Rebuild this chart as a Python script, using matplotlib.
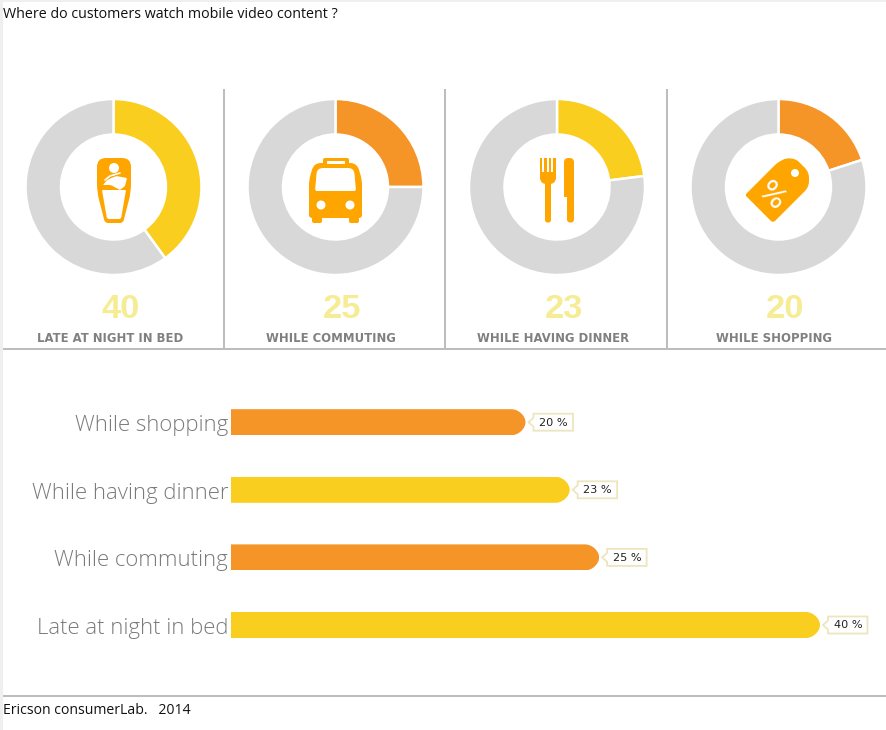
import matplotlib
matplotlib.use("Agg")
import matplotlib.pyplot as plt
from matplotlib.patches import Circle, PathPatch, Polygon, Rectangle
from matplotlib.path import Path
from matplotlib.transforms import Affine2D

# data
places = ["Late at night in bed", "While commuting", "While having dinner", "While shopping"]
shares = [40, 25, 23, 20]
slice_colors = ["#f9ce1f", "#f59427", "#f9ce1f", "#f59427"]

W, H = 887, 730
GRAY = "#d8d8d8"
LINE = "#bdbdbd"
ICON = "#ffa500"
TEXT_GRAY = "#808080"
NUM = "#f5ec94"
TAG = "#ece6bf"
PX = 72 / 100


def px_rect(x0, y0, x1, y1):
    # image pixels (y down) to figure fractions
    return [x0 / W, 1 - y1 / H, (x1 - x0) / W, (y1 - y0) / H]


def rounded(points, radii):
    # closed path from corner points, each corner cut with a quadratic curve
    n = len(points)
    verts, codes = [], []
    for i, (p, r) in enumerate(zip(points, radii)):
        a, b = points[i - 1], points[(i + 1) % n]
        la = ((a[0] - p[0]) ** 2 + (a[1] - p[1]) ** 2) ** 0.5
        lb = ((b[0] - p[0]) ** 2 + (b[1] - p[1]) ** 2) ** 0.5
        s = (p[0] + (a[0] - p[0]) * r / la, p[1] + (a[1] - p[1]) * r / la)
        e = (p[0] + (b[0] - p[0]) * r / lb, p[1] + (b[1] - p[1]) * r / lb)
        verts += [s, p, e]
        codes += [Path.MOVETO if i == 0 else Path.LINETO, Path.CURVE3, Path.CURVE3]
    verts.append(verts[0])
    codes.append(Path.CLOSEPOLY)
    return Path(verts, codes)


def shape(ax, points, radii, color=ICON):
    ax.add_patch(PathPatch(rounded(points, radii), fc=color, ec="none"))


def bed_icon(ax):
    shape(ax, [(97, 158), (131, 158), (131, 192), (123, 223), (105, 223), (97, 192)], [9, 9, 8, 3, 3, 8])
    shape(ax, [(102, 190), (126, 190), (121, 219), (107, 219)], [1, 1, 2, 2], "white")
    ax.add_patch(Circle((114, 168), 5, fc="white", ec="none"))
    shape(ax, [(103, 185), (107, 180), (116, 176), (127, 178), (125, 186), (120, 190), (111, 185)],
          [1, 2, 2, 1, 1, 1, 2], "white")
    ax.plot([105, 110, 120], [180, 176, 173], color="white", lw=1.2, solid_capstyle="round")


def bus_icon(ax):
    shape(ax, [(323, 158), (349, 158), (349, 166), (323, 166)], [2, 2, 0.1, 0.1])
    shape(ax, [(314, 163), (357, 163), (362, 180), (362, 218), (309, 218), (309, 180)], [7, 7, 5, 3, 3, 5])
    shape(ax, [(317, 168), (354, 168), (356, 191), (315, 191)], [6, 6, 2, 2], "white")
    shape(ax, [(327, 161), (345, 161), (345, 164), (327, 164)], [0.5, 0.5, 0.5, 0.5], "white")
    for x in (321, 350):
        ax.add_patch(Circle((x, 205), 4.5, fc="white", ec="none"))
    for x0 in (312, 349):
        shape(ax, [(x0, 215), (x0 + 10, 215), (x0 + 10, 223), (x0, 223)], [0.1, 0.1, 2, 2])


def cutlery_icon(ax):
    shape(ax, [(540, 172), (556, 172), (556, 181), (552, 184), (544, 184), (540, 181)], [0.1, 0.1, 3, 2, 2, 3])
    for x in (540, 544.5, 549, 553.5):
        ax.add_patch(Rectangle((x, 158), 2.5, 16, fc=ICON, ec="none"))
    shape(ax, [(545, 180), (551, 180), (551, 222.5), (545, 222.5)], [0.1, 0.1, 2.5, 2.5])
    shape(ax, [(564, 158), (574, 158), (574, 222.5), (567, 222.5), (567, 197), (564, 197)],
          [4.5, 4.5, 3, 3, 0.1, 0.1])


def tag_icon(ax):
    shape(ax, [(745, 195), (777, 163), (786, 158), (796, 159), (809, 172), (809, 187), (773, 223)],
          [2, 3, 4, 4, 6, 6, 3])
    ax.add_patch(Circle((795, 173), 4, fc="white", ec="none"))
    ax.text(771, 196, "%", color="white", fontsize=29 * PX, ha="center", va="center",
            rotation=-45, rotation_mode="anchor", family="DejaVu Sans")


fig = plt.figure(figsize=(W / 100, H / 100), dpi=100, facecolor="white")

# donuts, radii in pixels so each axes is 1:1 with the image
centers = [113.5, 335.5, 557, 778.5]
for cx, v, c in zip(centers, shares, slice_colors):
    ax = fig.add_axes(px_rect(cx - 100, 87, cx + 100, 287))
    ax.pie([v, 100 - v], colors=[c, GRAY], startangle=90, counterclock=False, radius=88,
           wedgeprops={"width": 35.5, "edgecolor": "white", "linewidth": 2.5 * PX})
    ax.set_xlim(-100, 100)
    ax.set_ylim(-100, 100)
    ax.axis("off")

# bars
bar_ax = fig.add_axes(px_rect(231, 388.4, 887, 658.8))
ypos = list(range(len(shares)))
bars = bar_ax.barh(ypos, shares, height=26 / 67.6, color=slice_colors)
bar_ax.set_xlim(0, 656 / 14.725)
bar_ax.set_ylim(-0.5, 3.5)
bar_ax.set_xticks([])
bar_ax.set_yticks(ypos, places, color="#7a7a7a", fontsize=22.2 * PX, family="Open Sans", fontweight="light")
bar_ax.tick_params(axis="y", length=0, pad=2)
for label in bar_ax.get_yticklabels():
    label.set_transform(label.get_transform() + Affine2D().translate(0, -1))
for s in bar_ax.spines.values():
    s.set_visible(False)
bar_ax.patch.set_alpha(0)

rx = 14 / 14.725
for bar, v, y in zip(bars, shares, ypos):
    h = bar.get_height() / 2
    k = 0.5
    verts = [(0, y - h), (v - rx, y - h), (v - rx + k * rx, y - h), (v, y - k * h), (v, y),
             (v, y + k * h), (v - rx + k * rx, y + h), (v - rx, y + h), (0, y + h), (0, y - h)]
    codes = [Path.MOVETO, Path.LINETO, Path.CURVE4, Path.CURVE4, Path.CURVE4,
             Path.CURVE4, Path.CURVE4, Path.CURVE4, Path.LINETO, Path.CLOSEPOLY]
    bar.set_clip_path(Path(verts, codes), transform=bar_ax.transData)
    # value callout, offsets in pixels from the bar end
    at = Affine2D().translate(*bar_ax.transData.transform((v, y)))
    bar_ax.add_patch(Polygon([(3, 0), (8, 4.5), (8, 8.5), (47.5, 8.5), (47.5, -8.5), (8, -8.5), (8, -4.5)],
                             closed=True, fc="white", ec=TAG, lw=1.8 * PX, transform=at, clip_on=False))
    bar_ax.text(28, -0.5, f"{v} %", transform=at, ha="center", va="center", fontsize=11.3 * PX,
                color="#222222", family="DejaVu Sans")

# page furniture, icons and texts in image pixels
top = fig.add_axes([0, 0, 1, 1])
top.set_xlim(0, W)
top.set_ylim(H, 0)
top.axis("off")
top.patch.set_alpha(0)

top.add_patch(Rectangle((0, 0), W, 2, fc="#efefef", ec="none"))
top.add_patch(Rectangle((0, 0), 3, H, fc="#efefef", ec="none"))
for x in (224, 445.5, 667):
    top.plot([x, x], [89, 349], color=LINE, lw=2 * PX, solid_capstyle="butt")
top.plot([3, W], [349, 349], color=LINE, lw=2 * PX, solid_capstyle="butt")
top.plot([3, W], [696, 696], color=LINE, lw=2 * PX, solid_capstyle="butt")

bed_icon(top)
bus_icon(top)
cutlery_icon(top)
tag_icon(top)

num_x = [121, 342, 563.5, 785]
cap_x = [110, 331, 553, 774]
for nx, lx, v, p in zip(num_x, cap_x, shares, places):
    top.text(nx, 309, str(v), color=NUM, fontsize=34.5 * PX, fontweight="bold", ha="center", va="center",
             family="Liberation Sans")
    top.text(lx, 338, p.upper(), color=TEXT_GRAY, fontsize=11.6 * PX, fontweight="bold", ha="center", va="center",
             family="DejaVu Sans")

top.text(3.5, 15, "Where do customers watch mobile video content ?", fontsize=14.3 * PX, color="#111111",
         ha="left", va="center", family="Open Sans")
top.text(3.5, 710, "Ericson consumerLab.   2014", fontsize=14 * PX, color="#111111",
         ha="left", va="center", family="Open Sans")

fig.savefig("out.png", dpi=100)
